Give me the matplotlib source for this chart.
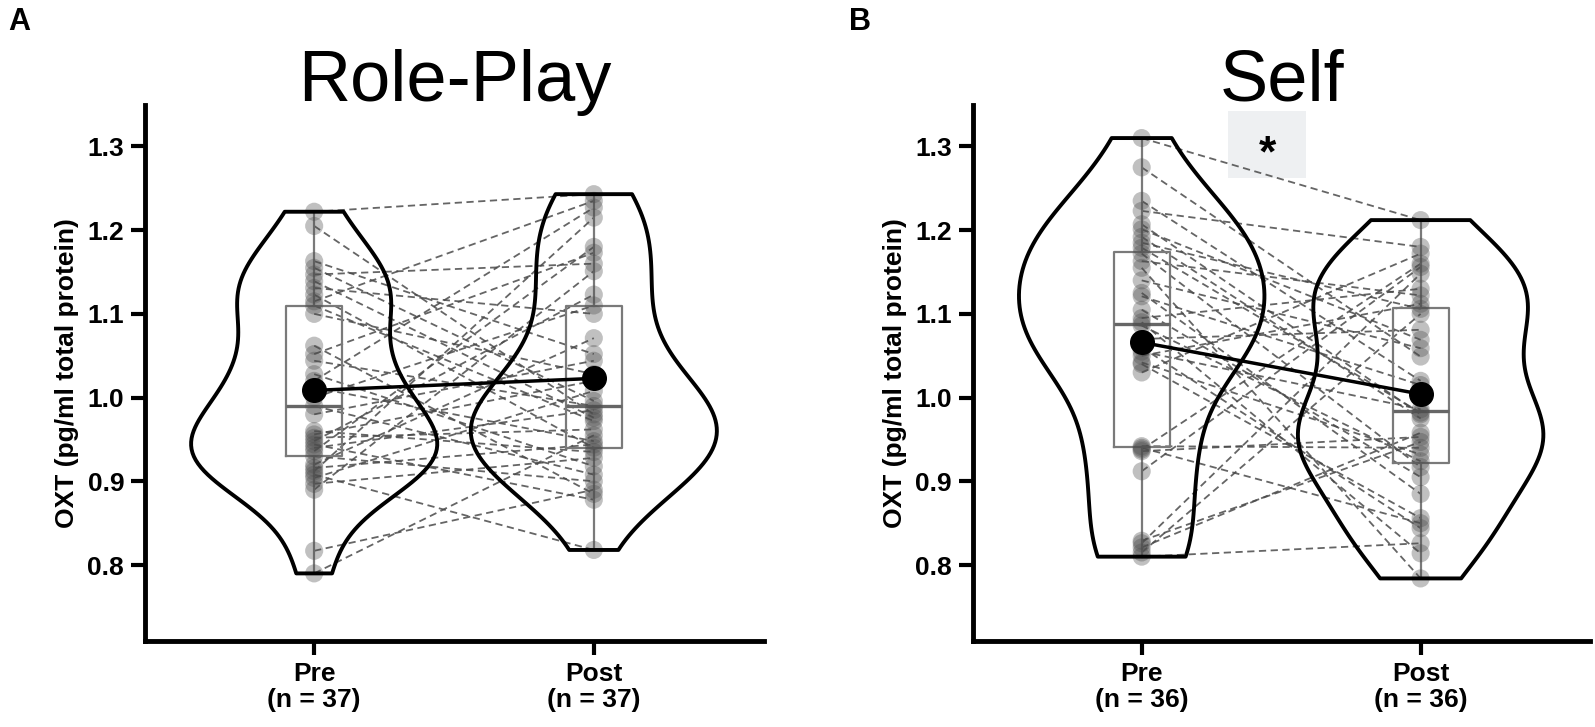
import numpy as np
import matplotlib
matplotlib.use("Agg")
import matplotlib.pyplot as plt
from matplotlib.patches import Rectangle

plt.rcParams['font.family'] = ['Liberation Sans', 'DejaVu Sans']

# OXT values, one entry per subject (pre and post paired by index)
roleplay_pre = [0.790, 0.817, 0.890, 0.897, 0.904, 0.908, 0.912, 0.916, 0.920, 0.930,
                0.936, 0.940, 0.944, 0.948, 0.952, 0.956, 0.960, 0.980, 0.990, 1.000,
                1.012, 1.020, 1.028, 1.044, 1.052, 1.062, 1.100, 1.110, 1.115, 1.123,
                1.131, 1.139, 1.147, 1.155, 1.163, 1.205, 1.222]
roleplay_post = [0.955, 0.890, 1.151, 0.928, 1.008, 0.818, 1.215, 0.944, 1.071, 0.900,
                 1.180, 0.985, 0.878, 1.123, 0.962, 1.020, 0.935, 1.044, 0.908, 1.110,
                 0.948, 1.227, 0.918, 0.990, 1.173, 0.885, 1.028, 0.972, 1.235, 0.940,
                 1.100, 0.976, 1.160, 0.996, 1.052, 0.980, 1.243]

self_pre = [0.810, 0.815, 0.821, 0.826, 0.829, 0.912, 0.936, 0.938, 0.940, 0.942,
            1.030, 1.042, 1.040, 1.050, 1.055, 1.060, 1.070, 1.086, 1.090, 1.095,
            1.105, 1.121, 1.125, 1.140, 1.155, 1.163, 1.172, 1.179, 1.185, 1.192,
            1.201, 1.207, 1.223, 1.235, 1.275, 1.310]
self_post = [0.826, 1.100, 0.958, 1.148, 0.947, 1.156, 0.953, 1.160, 0.850, 0.940,
             1.172, 0.932, 0.856, 1.112, 0.986, 0.844, 1.081, 0.924, 0.814, 1.130,
             0.905, 1.015, 0.885, 1.059, 0.784, 1.122, 0.917, 0.982, 1.106, 0.975,
             1.069, 0.980, 1.180, 1.020, 1.049, 1.212]

conditions = ["Pre", "Post"]
panel_titles = ["Role-Play", "Self"]
panel_letters = ["A", "B"]
yticks = [0.8, 0.9, 1.0, 1.1, 1.2, 1.3]


def draw_panel(ax, pre, post, title):
    groups = [pre, post]
    vp = ax.violinplot(groups, positions=[0, 1], widths=0.88, showextrema=False,
                       bw_method=0.45)
    for body in vp['bodies']:
        body.set_facecolor('none')
        body.set_edgecolor('black')
        body.set_linewidth(2.8)
        body.set_alpha(1)
        body.set_zorder(5)

    # paired lines per subject
    for a, b in zip(pre, post):
        ax.plot([0, 1], [a, b], ls=(0, (4, 2.5)), color='#4a4a4a', lw=1.3,
                alpha=0.85, zorder=2)

    ax.boxplot(groups, positions=[0, 1], widths=0.2, whis=(0, 100),
               showfliers=False, showcaps=False, manage_ticks=False,
               boxprops=dict(color='#7a7a7a', lw=1.6),
               whiskerprops=dict(color='#7a7a7a', lw=1.6),
               medianprops=dict(color='#666666', lw=2.4), zorder=3)

    for i, g in enumerate(groups):
        ax.scatter(np.full(len(g), i), g, s=170, color='#4d4d4d', alpha=0.35,
                   edgecolors='none', zorder=4)

    means = [np.mean(pre), np.mean(post)]
    ax.plot([0, 1], means, color='black', lw=2.5, marker='o', ms=17, zorder=7)

    n = len(pre)
    ax.set_xlim(-0.605, 1.608)
    ax.set_ylim(0.709, 1.349)
    ax.set_yticks(yticks)
    ax.set_yticklabels([f"{t:.1f}" for t in yticks], fontweight='bold')
    ax.set_xticks([0, 1])
    ax.set_xticklabels([f"{c}\n(n = {n})" for c in conditions], fontweight='bold',
                       linespacing=1.1)
    ax.tick_params(width=3, length=10, labelsize=19, pad=5)
    for s in ['top', 'right']:
        ax.spines[s].set_visible(False)
    for s in ['left', 'bottom']:
        ax.spines[s].set_linewidth(3.5)
    ax.set_ylabel("OXT (pg/ml total protein)", fontsize=19, fontweight='bold',
                  labelpad=6)
    # title sits just above the axes, baseline a few pixels over the spine top
    ax.text(0.5, 1.009, title, transform=ax.transAxes, ha='center',
            va='baseline', fontsize=52)


fig = plt.figure(figsize=(15.95, 7.27), dpi=100)
ax1 = fig.add_axes([0.0909, 0.118, 0.388, 0.737])
ax2 = fig.add_axes([0.610, 0.118, 0.387, 0.737])

draw_panel(ax1, roleplay_pre, roleplay_post, panel_titles[0])
draw_panel(ax2, self_pre, self_post, panel_titles[1])

# significance marker
ax2.add_patch(Rectangle((0.31, 1.262), 0.28, 0.08, facecolor='#eef0f2',
                        edgecolor='none', zorder=1))
ax2.text(0.45, 1.29, "*", ha='center', va='center', fontsize=32,
         fontweight='bold', zorder=8)

fig.text(0.005, 0.99, panel_letters[0], fontsize=22, fontweight='bold', va='top')
fig.text(0.532, 0.99, panel_letters[1], fontsize=22, fontweight='bold', va='top')

fig.savefig("out.png", dpi=100)
